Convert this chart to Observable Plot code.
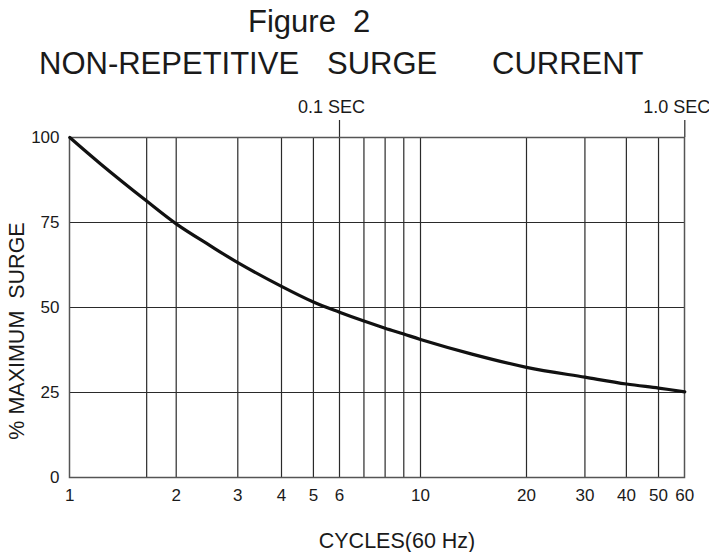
<!DOCTYPE html>
<html>
<head>
<meta charset="utf-8">
<script src="https://cdn.jsdelivr.net/npm/d3@7"></script>
<script src="https://cdn.jsdelivr.net/npm/@observablehq/plot@0.6"></script>
<style>
  html, body { margin: 0; padding: 0; background: #fff; }
  #wrap { position: relative; width: 709px; height: 552px; font-family: "Liberation Sans", Arial, sans-serif; color: #1a1a1a; }
  .t { position: absolute; font-size: 31px; line-height: 31px; white-space: pre; }
  #ylab { position: absolute; left: 17px; top: 331px; font-size: 21.5px; line-height: 22px; white-space: pre;
          transform: translate(-50%, -50%) rotate(-90deg); z-index: 2; }
</style>
</head>
<body>
<div id="wrap">
  <div class="t" style="left:248px; top:6px;">Figure  2</div>
  <div class="t" style="left:39px; top:48px;">NON-REPETITIVE</div>
  <div class="t" style="left:327px; top:48px;">SURGE</div>
  <div class="t" style="left:492px; top:48px;">CURRENT</div>
  <div id="ylab"></div>
</div>
<script>
// Cycles (60 Hz) and % of maximum surge
const cycles = [1, 1.22, 1.65, 2, 2.5, 3, 4, 5, 6, 7, 8, 9, 10, 14, 20, 30, 40, 50, 60];
const surge  = [100, 92.3, 81.3, 74.6, 68.2, 63.2, 56.2, 51.6, 48.6, 46.0, 43.9, 42.2, 40.6, 36.3, 32.4, 29.5, 27.5, 26.3, 25.2];

const xGrid = [1.65, 2, 3, 4, 5, 6, 7, 8, 9, 10, 20, 30, 40, 50];
const xTicks = [1, 2, 3, 4, 5, 6, 7, 8, 9, 10, 20, 30, 40, 50, 60];
const yGrid = [25, 50, 75];
const yTicks = [0, 25, 50, 75, 100];
const secTicks = [6, 60];
const secLabels = ["0.1 SEC", "1.0 SEC"];
const xLabel = "CYCLES(60 Hz)";
const yLabel = "% MAXIMUM  SURGE";

// the printed log axis is slightly irregular: piecewise log scale breakpoints
const xBreaks = [1, 2, 4, 6, 10, 20, 60];
const xBreakPx = [69.3, 175.7, 281, 339, 420, 526, 684.3];

document.getElementById("ylab").textContent = yLabel;

const data = cycles.map((c, i) => ({c, s: surge[i]}));
const ink = "#1a1a1a";

const chart = Plot.plot({
  width: 709,
  height: 552,
  marginLeft: 69,
  marginRight: 25,
  marginTop: 137,
  marginBottom: 75,
  style: {fontFamily: "'Liberation Sans', Arial, sans-serif", background: "transparent", color: ink, overflow: "visible"},
  x: {type: "log", domain: xBreaks, range: xBreakPx},
  y: {domain: [0, 100]},
  marks: [
    Plot.ruleX(xGrid, {stroke: "#2a2a2a", strokeWidth: 1.2}),
    Plot.ruleY(yGrid, {stroke: "#2a2a2a", strokeWidth: 1.2}),
    Plot.ruleX(secTicks, {y1: 100, y2: 105, stroke: "#2a2a2a", strokeWidth: 1.2}),
    Plot.frame({stroke: "#555", strokeWidth: 1.5}),
    Plot.line(data, {x: "c", y: "s", curve: "catmull-rom", stroke: "#111", strokeWidth: 3.2}),
    Plot.axisX({ticks: xTicks, tickSize: 0, tickPadding: 11, tickFormat: d => String(d), fontSize: 17, label: null}),
    Plot.axisY({ticks: yTicks, tickSize: 0, tickPadding: 10, tickFormat: d => String(d), fontSize: 17, label: null}),
    Plot.axisX({anchor: "top", ticks: secTicks, tickSize: 0, tickPadding: 25, dx: -8, fontSize: 18,
      tickFormat: d => secLabels[secTicks.indexOf(d)], label: null}),
    Plot.text([xLabel], {frameAnchor: "bottom", text: d => d, dx: 20, dy: 55, fontSize: 21.5, lineAnchor: "top"})
  ]
});
chart.style.position = "absolute";
chart.style.left = "0px";
chart.style.top = "0px";
document.getElementById("wrap").appendChild(chart);
</script>
</body>
</html>
